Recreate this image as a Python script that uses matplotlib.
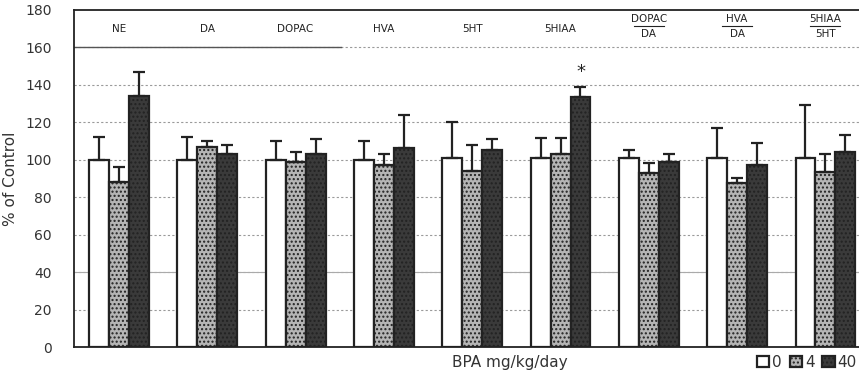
import matplotlib.pyplot as plt
from matplotlib.patches import Patch
import numpy as np

groups = ["NE", "DA", "DOPAC", "HVA", "5HT", "5HIAA", "DOPAC/DA", "HVA/DA", "5HIAA/5HT"]
doses = ["0", "4", "40"]

# mean % of control for dose 0, 4, 40
vals_0 = [100, 100, 100, 100, 101, 101, 101, 101, 101]
vals_4 = [88, 107, 99, 97, 94, 103, 93, 87.5, 93.5]
vals_40 = [134, 103, 103, 106, 105, 133.5, 99, 97, 104]
# upper end of error bars
err_0 = [112, 112, 110, 110, 120, 111.5, 105, 117, 129]
err_4 = [96, 110, 104, 103, 108, 111.5, 98, 90, 103]
err_40 = [147, 108, 111, 124, 111, 139, 103, 109, 113]
star_groups = [5]
yticks = list(range(0, 181, 20))

ink = "#222222"
plt.rcParams['font.family'] = ['DejaVu Sans']

fig = plt.figure(figsize=(8.59, 3.80), dpi=100)
ax = fig.add_axes([0.0861, 0.0868, 0.9139, 0.8872])

x = np.arange(len(groups))
w = 0.226
series = [(vals_0, err_0, "white", None),
          (vals_4, err_4, "#b5b5b5", "...."),
          (vals_40, err_40, "#3a3a3a", "....")]

# grid (dotted), drawn first
for yv in yticks[1:-1]:
    ax.axhline(yv, color="#9a9a9a", lw=0.8, ls=(0, (2, 2)), zorder=0)
ax.plot([-0.51, 2.51], [160, 160], color="#555555", lw=1.0, zorder=0.5)
ax.axhline(40, color="#aaaaaa", lw=0.8, zorder=0.4)

for i, (v, e, fc, h) in enumerate(series):
    xs = x + (i - 1) * w
    v = np.array(v)
    ax.bar(xs, v, width=w, color=fc, edgecolor=ink, linewidth=1.6,
           hatch=h, zorder=2)
    ax.errorbar(xs, v, yerr=[np.zeros_like(v), np.array(e) - v], fmt="none",
                ecolor=ink, elinewidth=1.6, capsize=4, capthick=1.6, zorder=3)

for g in star_groups:
    ax.text(x[g] + w, err_40[g] + 3, "*", ha="center", va="bottom",
            fontsize=13, color=ink)

# group labels
for xi, name in zip(x, groups):
    if "/" in name:
        num, den = name.split("/")
        ax.text(xi, 175, num, ha="center", va="center", fontsize=7.5,
                color=ink)
        ax.plot([xi - 0.17, xi + 0.17], [171.5, 171.5], color=ink, lw=0.8)
        ax.text(xi, 167, den, ha="center", va="center", fontsize=7.5,
                color=ink)
    else:
        ax.text(xi, 170, name, ha="center", va="center", fontsize=7.5,
                color=ink)

ax.set_xlim(-0.51, 8.38)
ax.set_ylim(0, 180)
ax.set_yticks(yticks)
ax.set_xticks([])
ax.tick_params(axis="y", length=0, labelsize=10, colors="#333333", pad=16)
ax.spines["right"].set_visible(False)
for s in ["left", "top", "bottom"]:
    ax.spines[s].set_color(ink)
    ax.spines[s].set_linewidth(1.3)

ax.set_ylabel("% of Control", fontsize=11, color="#333333", labelpad=5)
ax.set_xlabel("BPA mg/kg/day", fontsize=11, color="#333333", labelpad=3)
ax.xaxis.set_label_coords(0.555, -0.025)

handles = [Patch(facecolor=c, edgecolor=ink, hatch=h, linewidth=1.6)
           for _, _, c, h in series]
ax.legend(handles, doses, loc="upper right", bbox_to_anchor=(1.005, -0.005),
          ncol=3, frameon=False, fontsize=11, handlelength=0.8,
          handleheight=0.8, handletextpad=0.2, columnspacing=0.5,
          borderaxespad=0, labelcolor="#333333")

fig.savefig("out.png", dpi=100)
